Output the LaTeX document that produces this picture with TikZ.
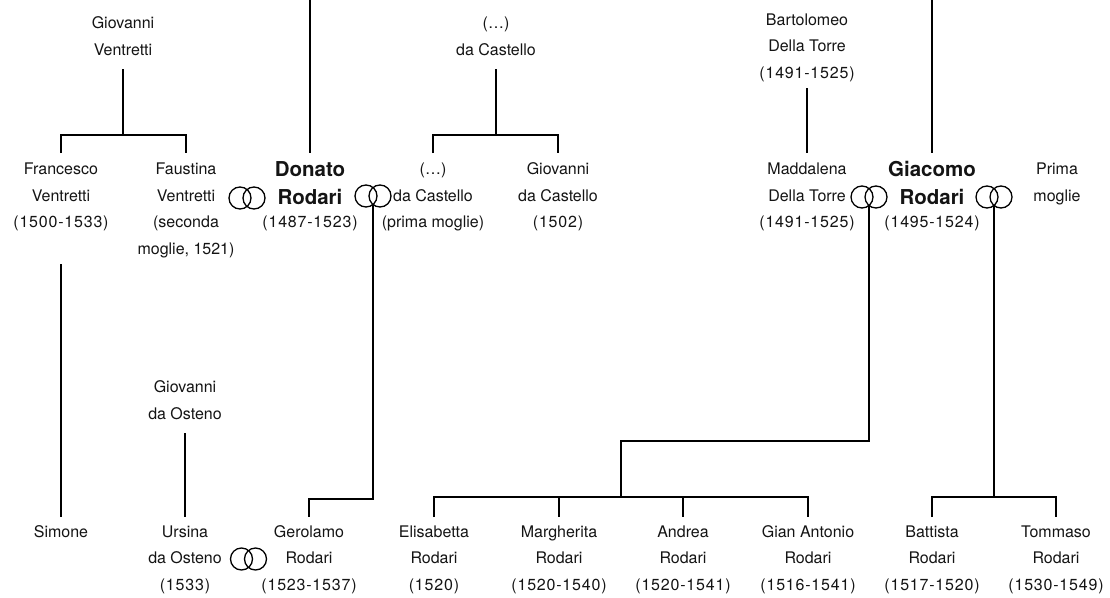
\documentclass[tikz,border=0pt]{standalone}
\usepackage{fontspec}
\setmainfont{TeX Gyre Heros}
\newfontfamily\datefont[LetterSpace=5]{TeX Gyre Heros}
\newcommand\st{\rule[-7pt]{0pt}{25pt}}
\newcommand\pf{\fontsize{16}{26.5}\selectfont}
\newcommand\bn[1]{{\fontsize{20.5}{26.5}\selectfont\bfseries #1}}
\newcommand\dt[1]{{\datefont #1}}
\tikzset{
  person/.style={anchor=north, align=center, inner sep=0pt, font=\pf, text=black!92},
  link/.style={line width=2.9pt, draw=black},
  ring/.style={line width=1.3pt, draw=black},
}
\begin{document}
\begin{tikzpicture}[x=1pt,y=-1pt]
\useasboundingbox (0,0) rectangle (1110,597);
\fill[white] (0,0) rectangle (1110,597);

% ---- row 0
\node[person] (gv)  at (123,10.7) {\st Giovanni\\\st Ventretti};
\node[person] (dc0) at (496,10.7) {\st (…)\\\st da Castello};
\node[person] (bdt) at (807,7) {\st Bartolomeo\\\st Della Torre\\\st\dt{(1491-1525)}};

% ---- row 1
\node[person] (fv)  at (61,156.7)  {\st Francesco\\\st Ventretti\\\st\dt{(1500-1533)}};
\node[person] (fav) at (186,156.7) {\st Faustina\\\st Ventretti\\\st (seconda\\\st moglie, 1521)};
\node[person] (dr)  at (310,158.7) {\st\bn{Donato}\\[0.8pt]\st\bn{Rodari}\\[-3pt]\st\dt{(1487-1523)}};
\node[person] (dcw) at (433,156.7) {\st (…)\\\st da Castello\\\st (prima moglie)};
\node[person] (gdc) at (558,156.7) {\st Giovanni\\\st da Castello\\\st\dt{(1502)}};
\node[person] (mdt) at (807,156.7) {\st Maddalena\\\st Della Torre\\\st\dt{(1491-1525)}};
\node[person] (gr)  at (932,158.7) {\st\bn{Giacomo}\\[0.8pt]\st\bn{Rodari}\\[-3pt]\st\dt{(1495-1524)}};
\node[person] (pm)  at (1057,156.7) {\st Prima\\\st moglie};

% ---- row 2
\node[person] (gdo) at (185,374.7) {\st Giovanni\\\st da Osteno};

% ---- row 3
\node[person] (sim) at (61,519.2)   {\st Simone};
\node[person] (uds) at (185,519.2)  {\st Ursina\\\st da Osteno\\\st\dt{(1533)}};
\node[person] (ger) at (309,519.2)  {\st Gerolamo\\\st Rodari\\\st\dt{(1523-1537)}};
\node[person] (eli) at (434,519.2)  {\st Elisabetta\\\st Rodari\\\st\dt{(1520)}};
\node[person] (mar) at (559,519.2)  {\st Margherita\\\st Rodari\\\st\dt{(1520-1540)}};
\node[person] (and) at (683,519.2)  {\st Andrea\\\st Rodari\\\st\dt{(1520-1541)}};
\node[person] (gan) at (808,519.2)  {\st Gian Antonio\\\st Rodari\\\st\dt{(1516-1541)}};
\node[person] (bat) at (932,519.2)  {\st Battista\\\st Rodari\\\st\dt{(1517-1520)}};
\node[person] (tom) at (1056,519.2) {\st Tommaso\\\st Rodari\\\st\dt{(1530-1549)}};

% ---- marriage rings
\coordinate (r1) at (247,198);
\coordinate (r2) at (373,196);
\coordinate (r3) at (869,197);
\coordinate (r4) at (994,197);
\coordinate (r5) at (248.5,559);
\foreach \r in {r1,r2,r3,r4,r5}{
  \draw[ring] ([xshift=-7pt]\r) circle[radius=11pt] ([xshift=7pt]\r) circle[radius=11pt];
}

% ---- top lines
\coordinate (dtop) at (310,0);
\coordinate (gtop) at (932,0);
\draw[link] (dtop) -- ([yshift=5.7pt]dr.north);
\draw[link] (gtop) -- ([yshift=5.7pt]gr.north);

% ---- Ventretti family
\coordinate (jv) at (123,135);
\draw[link] ([yshift=-6.8pt]gv.south) -- (jv);
\draw[link] ([yshift=3.7pt]fv.north) |- (jv) -| ([yshift=3.7pt]fav.north);

% ---- da Castello family
\coordinate (jc) at (496,135);
\draw[link] ([yshift=-6.8pt]dc0.south) -- (jc);
\draw[link] ([yshift=3.7pt]dcw.north) |- (jc) -| ([yshift=3.7pt]gdc.north);

% ---- Della Torre
\draw[link] ([yshift=-3pt]bdt.south) -- ([yshift=3.7pt]mdt.north);

% ---- Francesco -> Simone
\draw[link] ([yshift=-29.3pt]fv.south) -- ([yshift=2.2pt]sim.north);

% ---- da Osteno
\draw[link] ([yshift=-6.8pt]gdo.south) -- ([yshift=2.2pt]uds.north);

% ---- Donato + (prima moglie) -> Gerolamo
\coordinate (j2) at (373,499);
\draw[link] ([yshift=-8.5pt]r2) -- (j2) -| ([yshift=2.2pt]ger.north);

% ---- Giacomo + Maddalena -> children
\coordinate (j3a) at (869,441);
\coordinate (j3b) at (621,497);
\draw[link] ([yshift=-8.5pt]r3) -- (j3a) -| (j3b);
\draw[link] ([yshift=2.2pt]eli.north) |- (j3b) -| ([yshift=2.2pt]gan.north);
\draw[link] (j3b -| mar.north) -- ([yshift=2.2pt]mar.north);
\draw[link] (j3b -| and.north) -- ([yshift=2.2pt]and.north);

% ---- Giacomo + prima moglie -> children
\coordinate (j4) at (994,497);
\draw[link] ([yshift=-8.5pt]r4) -- (j4);
\draw[link] ([yshift=2.2pt]bat.north) |- (j4) -| ([yshift=2.2pt]tom.north);
\end{tikzpicture}
\end{document}
